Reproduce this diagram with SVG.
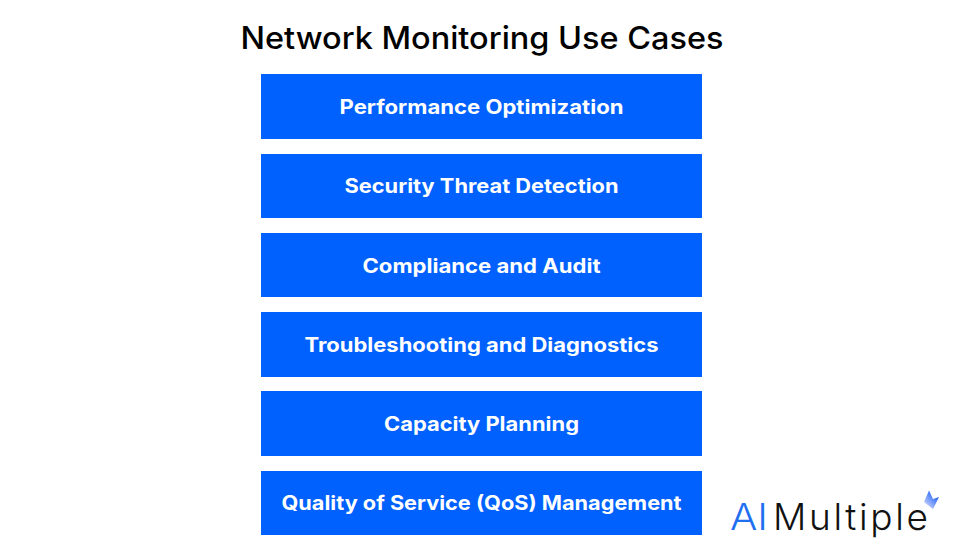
<svg xmlns="http://www.w3.org/2000/svg" width="958" height="543" viewBox="0 0 958 543">
<defs>
<linearGradient id="spark" x1="0.7" y1="0.1" x2="0.1" y2="0.8"><stop offset="0" stop-color="#1d5ff5"/><stop offset="1" stop-color="#c3cffc"/></linearGradient>
</defs>
<style>
.box{fill:#0061fe}
.lbl{font-family:"Inter","Liberation Sans",sans-serif;font-weight:700;font-size:19.5px;fill:#fff;text-anchor:middle}
.ttl{font-family:"Inter","Liberation Sans",sans-serif;font-weight:500;font-size:31px;fill:#000;text-anchor:middle}
.logo{font-family:"Inter","Liberation Sans",sans-serif;font-weight:300;font-size:37px}
</style>
<rect width="958" height="543" fill="#fff"/>
<text id="title" class="ttl" x="482" y="48.500" textLength="483" lengthAdjust="spacingAndGlyphs">Network Monitoring Use Cases</text>
<g id="node1"><rect class="box" x="261" y="74" width="441" height="65"/><text class="lbl" x="481.500" y="114" textLength="284" lengthAdjust="spacingAndGlyphs">Performance Optimization</text></g>
<g id="node2"><rect class="box" x="261" y="154" width="441" height="64"/><text class="lbl" x="481.500" y="193" textLength="274" lengthAdjust="spacingAndGlyphs">Security Threat Detection</text></g>
<g id="node3"><rect class="box" x="261" y="233" width="441" height="64"/><text class="lbl" x="481.500" y="273" textLength="238" lengthAdjust="spacingAndGlyphs">Compliance and Audit</text></g>
<g id="node4"><rect class="box" x="261" y="312" width="441" height="65"/><text class="lbl" x="481.500" y="352" textLength="354" lengthAdjust="spacingAndGlyphs">Troubleshooting and Diagnostics</text></g>
<g id="node5"><rect class="box" x="261" y="391" width="441" height="65"/><text class="lbl" x="481.500" y="431" textLength="195" lengthAdjust="spacingAndGlyphs">Capacity Planning</text></g>
<g id="node6"><rect class="box" x="261" y="471" width="441" height="64"/><text class="lbl" x="481.500" y="510" textLength="400" lengthAdjust="spacingAndGlyphs">Quality of Service (QoS) Management</text></g>
<g id="connectors"></g>
<g id="logo">
<text class="logo" x="730" y="530" fill="#1f6ff0" textLength="38" lengthAdjust="spacingAndGlyphs">AI</text>
<text class="logo" x="773" y="530" fill="#111" textLength="155" lengthAdjust="spacing">Multiple</text>
<path d="M929 490.500L933 499L939 497L933 509L924 502Z" fill="url(#spark)"/>
</g>
</svg>
